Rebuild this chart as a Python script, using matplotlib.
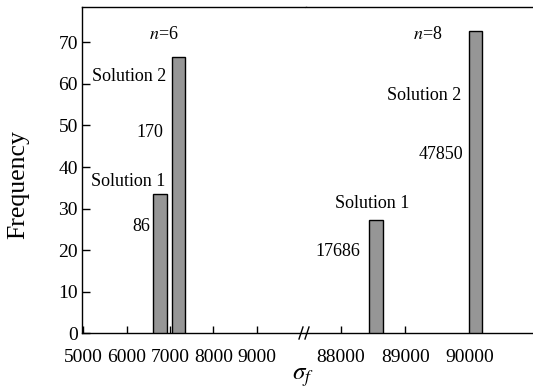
import matplotlib
matplotlib.use('Agg')
import matplotlib.pyplot as plt
from matplotlib.lines import Line2D

plt.rcParams['font.family'] = ['Liberation Serif', 'DejaVu Serif']
plt.rcParams['mathtext.fontset'] = 'stix'

# data
sigma_left = [6770, 7195]
freq_left = [33.6, 66.4]
count_left = ['86', '170']
sigma_right = [88547, 90085]
freq_right = [27.3, 72.7]
count_right = ['17686', '47850']
ticks_left = [5000, 6000, 7000, 8000, 9000]
ticks_right = [88000, 89000, 90000]
yticks = [0, 10, 20, 30, 40, 50, 60, 70]

W, H = 533, 391
fig = plt.figure(figsize=(W / 100, H / 100), dpi=100)

x0, xb, x1 = 82 / W, 306 / W, 1.0
y0, y1 = 1 - 333.3 / H, 1 - 7 / H
ax1 = fig.add_axes([x0, y0, xb - x0, y1 - y0])
ax2 = fig.add_axes([xb, y0, x1 - xb, y1 - y0], sharey=ax1)

bar_style = dict(color='#969696', edgecolor='black', linewidth=1.0, zorder=3)
ax1.bar(sigma_left, freq_left, width=308, **bar_style)
ax2.bar(sigma_right, freq_right, width=208, **bar_style)

ax1.set_xlim(4970, 10140)
ax2.set_xlim(87460, 90980)
ax1.set_ylim(0, 78.5)

ax1.spines['right'].set_visible(False)
ax2.spines['left'].set_visible(False)
ax2.spines['right'].set_visible(False)
for ax in (ax1, ax2):
    for s in ax.spines.values():
        s.set_linewidth(1.0)

ax1.set_xticks(ticks_left)
ax2.set_xticks(ticks_right)
ax1.set_yticks(yticks)
ax1.tick_params(axis='y', direction='in', length=6, width=1, labelsize=14, pad=3)
ax1.tick_params(axis='x', direction='in', length=5, width=1, labelsize=14, pad=11)
ax2.tick_params(axis='x', direction='in', length=5, width=1, labelsize=14, pad=11)
ax2.tick_params(axis='y', left=False, labelleft=False)

fs = 13
# left group annotations
ax1.text(6864, 71.8, r'$n$=6', ha='center', va='center', fontsize=fs)
ax1.text(6910, 61.9, 'Solution 2', ha='right', va='center', fontsize=fs)
ax1.text(6841, 48.4, count_left[1], ha='right', va='center', fontsize=fs)
ax1.text(6887, 36.4, 'Solution 1', ha='right', va='center', fontsize=fs)
ax1.text(6540, 25.6, count_left[0], ha='right', va='center', fontsize=fs)
# right group annotations
ax2.text(89350, 71.8, r'$n$=8', ha='center', va='center', fontsize=fs)
ax2.text(89861, 57.3, 'Solution 2', ha='right', va='center', fontsize=fs)
ax2.text(89892, 42.9, count_right[1], ha='right', va='center', fontsize=fs)
ax2.text(88484, 31.3, 'Solution 1', ha='center', va='center', fontsize=fs)
ax2.text(88298, 19.6, count_right[0], ha='right', va='center', fontsize=fs)

# axis break marks
for dx in (0, 6):
    fig.add_artist(Line2D([(299 + dx) / W, (303 + dx) / W],
                          [1 - 339 / H, 1 - 327 / H],
                          color='black', linewidth=1.0, transform=fig.transFigure))

fig.text(18 / W, 1 - 185 / H, 'Frequency', rotation=90, ha='center', va='center', fontsize=18.5)
fig.text(303 / W, 1 - 378 / H, r'$\sigma_f$', ha='center', va='center', fontsize=18)

fig.savefig('out.png', dpi=100)
